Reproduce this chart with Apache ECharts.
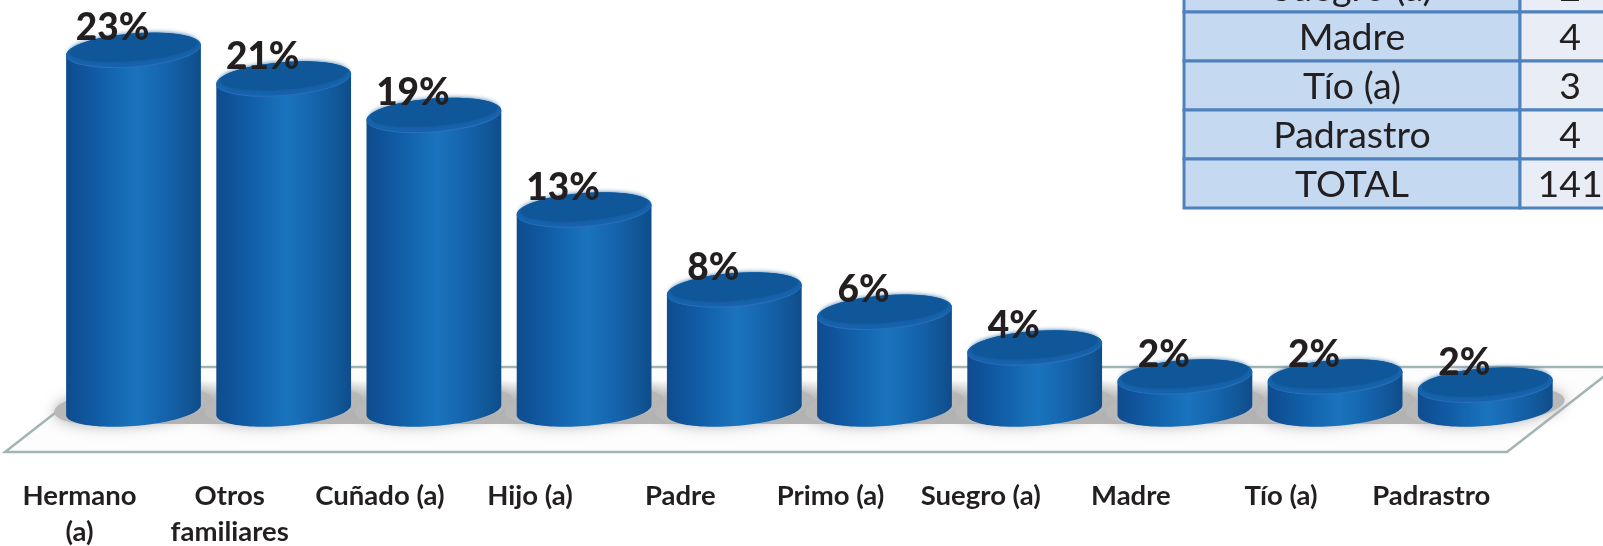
<!DOCTYPE html>
<html><head><meta charset="utf-8">
<style>html,body{margin:0;padding:0;background:#fff}#c{width:1603px;height:546px}</style>
<script src="https://cdn.jsdelivr.net/npm/echarts@6/dist/echarts.min.js"></script>
</head><body><div id="c"></div>
<script>
const categories = ['Hermano\n(a)','Otros\nfamiliares','Cuñado (a)','Hijo (a)','Padre','Primo (a)','Suegro (a)','Madre','Tío (a)','Padrastro'];
const percentValues = [23.2,21.35,19.0,12.9,7.74,6.3,4.0,2.13,2.13,1.6];
const tableLabels = ['Suegro (a)','Madre','Tío (a)','Padrastro','TOTAL'];
const tableCounts = ['2','4','3','4','141'];

const FONT = 'Lato, Carlito, "Open Sans", sans-serif';
const INK = '#231f20';
const TILT = -4.5 * Math.PI / 180;
const RY = 17;

function ellipsePoint(cx, cy, rx, ry, t) {
  return [
    cx + rx * Math.cos(t) * Math.cos(TILT) - ry * Math.sin(t) * Math.sin(TILT),
    cy + rx * Math.cos(t) * Math.sin(TILT) + ry * Math.sin(t) * Math.cos(TILT)
  ];
}
function ellipseEl(cx, cy, rx, ry, fill, z2, extra) {
  return Object.assign({
    type: 'ellipse', z2: z2,
    x: cx, y: cy, rotation: -TILT,
    shape: {cx: 0, cy: 0, rx: rx, ry: ry},
    style: {fill: fill}
  }, extra || {});
}
function bodyGradient() {
  return new echarts.graphic.LinearGradient(0, 0, 1, 0, [
    {offset: 0, color: '#0f4c8e'},
    {offset: 0.1, color: '#0f5299'},
    {offset: 0.32, color: '#1264ad'},
    {offset: 0.52, color: '#1a74bd'},
    {offset: 0.72, color: '#1565ae'},
    {offset: 0.92, color: '#115595'},
    {offset: 1, color: '#0f4c8a'}
  ]);
}
function renderCylinder(params, api) {
  const idx = api.value(0);
  const val = api.value(1);
  const top = api.coord([idx, val]);
  const base = api.coord([idx, 0]);
  const band = api.size([1, 0])[0];
  const rx = band * 0.45;
  const cx = top[0], topY = top[1], baseY = base[1];
  const tRight = Math.atan2(-RY * Math.sin(TILT), rx * Math.cos(TILT));
  const pts = [];
  for (let k = 0; k <= 48; k++) pts.push(ellipsePoint(cx, baseY, rx, RY - 1, tRight + Math.PI * k / 48));
  pts.push(ellipsePoint(cx, topY, rx, RY, tRight + Math.PI));
  pts.push(ellipsePoint(cx, topY, rx, RY, tRight));
  return {
    type: 'group',
    children: [
      ellipseEl(cx, baseY - 4, rx + 12, RY + 2, '#b8b8b8', 1, {
        style: {fill: '#b8b8b8', shadowBlur: 14, shadowColor: '#b0b0b0', shadowOffsetX: 0, shadowOffsetY: 0}
      }),
      {type: 'polygon', z2: 5, shape: {points: pts}, style: {fill: bodyGradient()}},
      ellipseEl(cx, topY, rx, RY, '#2a6fb6', 6),
      ellipseEl(cx, topY - 0.6, rx, RY - 0.6, '#1663ae', 7),
      ellipseEl(cx, topY - 3, rx - 4, RY - 3.5, '#0f5798', 8, {
        style: {fill: '#0f5798', shadowBlur: 5, shadowColor: '#0f5798'}
      }),
      {
        type: 'text', z2: 10, x: cx - 21, y: topY - 22,
        style: {
          text: Math.round(val) + '%', align: 'center', verticalAlign: 'middle',
          font: '900 37px ' + FONT, fill: INK
        }
      }
    ]
  };
}

/* table */
const TABLE = {left: 1184, split: 1520, right: 1610, rowH: 49, firstBottom: 12, line: '#4f81bd', lw: 3};
const tableEls = [];
tableLabels.forEach(function (lab, i) {
  const y = TABLE.firstBottom + (i - 1) * TABLE.rowH;
  const midY = y + TABLE.rowH / 2 + 1.5;
  tableEls.push({type: 'rect', z: 20, shape: {x: TABLE.left, y: y, width: TABLE.split - TABLE.left, height: TABLE.rowH},
    style: {fill: '#c5d9f0', stroke: TABLE.line, lineWidth: TABLE.lw}});
  tableEls.push({type: 'rect', z: 20, shape: {x: TABLE.split, y: y, width: TABLE.right - TABLE.split, height: TABLE.rowH},
    style: {fill: '#e8edf6', stroke: TABLE.line, lineWidth: TABLE.lw}});
  tableEls.push({type: 'text', z: 21, x: 1352, y: midY,
    style: {text: lab, align: 'center', verticalAlign: 'middle', font: '37.5px ' + FONT, fill: INK}});
  tableEls.push({type: 'text', z: 21, x: 1570, y: midY,
    style: {text: tableCounts[i], align: 'center', verticalAlign: 'middle', font: '37.5px ' + FONT, fill: INK}});
});

/* floor and the soft band of shadow on it */
const floorEls = [
  {type: 'polygon', z: 0, shape: {points: [[5, 452], [114, 367], [1616, 367], [1507, 452]]},
    style: {fill: '#fdfdfd', stroke: '#a3b4b5', lineWidth: 2.5, lineJoin: 'miter'}},
  {type: 'rect', z: 1, shape: {x: 134, y: 380, width: 1351, height: 44},
    style: {fill: new echarts.graphic.LinearGradient(0, 0, 0, 1, [
      {offset: 0, color: 'rgba(176,176,176,0)'},
      {offset: 0.4, color: 'rgba(186,186,186,0.8)'},
      {offset: 0.7, color: 'rgba(180,180,180,1)'},
      {offset: 1, color: 'rgba(180,180,180,1)'}
    ])}}
];

const chart = echarts.init(document.getElementById('c'), null, {renderer: 'canvas'});
chart.setOption({
  animation: false,
  backgroundColor: '#fff',
  graphic: {elements: floorEls.concat(tableEls)},
  grid: {left: 58.4, width: 1502, top: 7, height: 403, containLabel: false, outerBoundsMode: 'none'},
  xAxis: {
    type: 'category', data: categories,
    axisLine: {show: false}, axisTick: {show: false},
    axisLabel: {
      interval: 0, margin: 68, fontFamily: FONT, fontWeight: 'bold', fontSize: 27.5,
      color: INK, lineHeight: 36, padding: [0, 108, 0, 0], verticalAlign: 'top'
    }
  },
  yAxis: {type: 'value', min: 0, max: 26, show: false, splitLine: {show: false}},
  series: [{
    type: 'custom', renderItem: renderCylinder, clip: false,
    encode: {x: 0, y: 1},
    data: percentValues.map(function (v, i) { return [i, v]; })
  }]
});
</script></body></html>
